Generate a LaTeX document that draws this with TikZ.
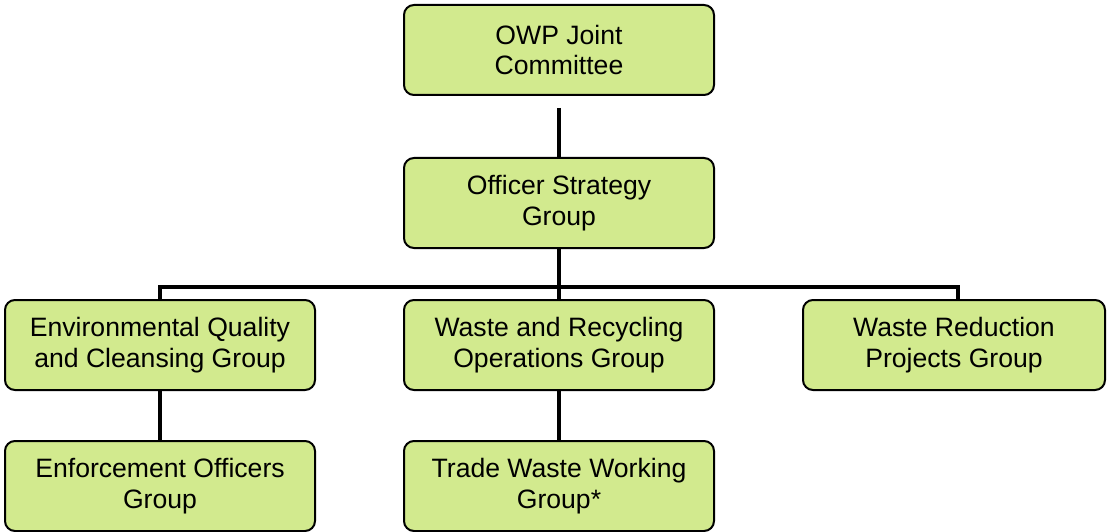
\documentclass[tikz,border=0pt]{standalone}
\usepackage{fontspec}
\setmainfont{Liberation Sans}
\definecolor{boxgreen}{HTML}{D2EA8E}
\begin{document}
\begin{tikzpicture}[x=1pt,y=-1pt,
  box/.style={draw=black, line width=2pt, rounded corners=10pt, fill=boxgreen,
    minimum width=310pt, minimum height=90pt, align=center, inner sep=0pt,
    font=\fontsize{26.6}{30.5}\selectfont},
  link/.style={line width=4.5pt, black, line join=miter}]
\useasboundingbox (0,0) rectangle (1114,532);
\node[box] (owp) at (559,50) {OWP Joint\\Committee};
\node[box] (osg) at (559,203) {Officer Strategy\\Group};
\node[box] (eqc) at (160,345) {Environmental Quality\\and Cleansing Group};
\node[box] (wro) at (559,345) {Waste and Recycling\\Operations Group};
\node[box, minimum width=302pt] (wrp) at (954,345) {Waste Reduction\\Projects Group};
\node[box] (eog) at (160,486) {Enforcement Officers\\Group};
\node[box] (tww) at (559,486) {Trade Waste Working\\Group*};
\coordinate (busL) at (160,287);
\coordinate (busR) at (958,287);
\draw[link] ([yshift=-12pt]owp.south) -- (osg.north);
\draw[link] (osg.south) -- (wro.north);
\draw[link] (eqc.north) -- (busL) -- (busR) -- (busR |- wrp.north);
\draw[link] (eqc.south) -- (eog.north);
\draw[link] (wro.south) -- (tww.north);
\end{tikzpicture}
\end{document}
